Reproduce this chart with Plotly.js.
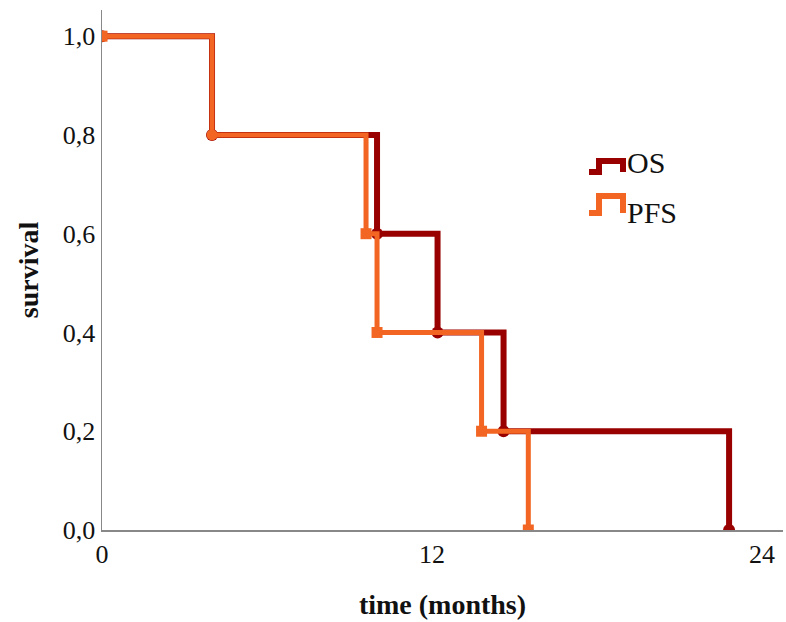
<!DOCTYPE html>
<html>
<head>
<meta charset="utf-8">
<script src="https://cdn.plot.ly/plotly-3.0.1.min.js"></script>
<style>html,body{margin:0;padding:0;background:#fff;}#chart{width:786px;height:622px;}</style>
</head>
<body>
<div id="chart"></div>
<script>
// Kaplan-Meier step data (time in months, survival proportion)
const osTime   = [0, 4, 10, 12.2, 14.6, 22.8];
const osSurv   = [1, 0.8, 0.6, 0.4, 0.2, 0];
const pfsTime  = [0, 4, 9.6, 10, 13.8, 15.5];
const pfsSurv  = [1, 0.8, 0.6, 0.4, 0.2, 0];
const seriesNames = ["OS", "PFS"];
const xTickVals = [0, 12, 24];
const xTickText = ["0", "12", "24"];
const yTickVals = [0, 0.2, 0.4, 0.6, 0.8, 1.0];
const yTickText = ["0,0", "0,2", "0,4", "0,6", "0,8", "1,0"];

const OS_COLOR = "#990000";
const PFS_COLOR = "#f26522";
const serif = "Liberation Serif, Times New Roman, serif";

const traces = [
  {
    x: osTime, y: osSurv, name: seriesNames[0], type: "scatter", mode: "lines+markers",
    line: {shape: "hv", color: OS_COLOR, width: 6},
    marker: {symbol: "circle", size: 12, color: OS_COLOR},
    showlegend: false, hoverinfo: "x+y"
  },
  {
    x: pfsTime, y: pfsSurv, name: seriesNames[1], type: "scatter", mode: "lines+markers",
    line: {shape: "hv", color: PFS_COLOR, width: 5},
    marker: {symbol: ["square", "circle", "square", "square", "square", "square"], size: 11, color: PFS_COLOR},
    showlegend: false, hoverinfo: "x+y"
  }
];

// custom step-shaped legend icons (paper coords)
function px2x(p){ return (p - 102) / (783 - 102); }
function py2y(p){ return (530 - p) / (530 - 10); }
function stepIcon(x0, yb, yt, color){
  const a = px2x(x0), b = px2x(x0 + 10), c = px2x(x0 + 34);
  const lo = py2y(yb), hi = py2y(yt);
  return {type: "path", xref: "paper", yref: "paper",
    path: `M ${a} ${lo} L ${b} ${lo} L ${b} ${hi} L ${c} ${hi} L ${c} ${lo}`,
    line: {color: color, width: 6}};
}

const layout = {
  width: 786, height: 622,
  margin: {l: 102, r: 3, t: 10, b: 92},
  paper_bgcolor: "#fff", plot_bgcolor: "#fff",
  font: {family: serif, color: "#111"},
  xaxis: {
    range: [0, 24.76], tickvals: xTickVals, ticktext: xTickText,
    showgrid: false, zeroline: false, showline: true, linecolor: "#888", linewidth: 1.5,
    ticks: "", tickfont: {size: 26, family: serif, color: "#111"},
    title: {text: "<b>time (months)</b>", font: {size: 28, family: serif, color: "#111"}, standoff: 26}
  },
  yaxis: {
    range: [0, 1.053], tickvals: yTickVals, ticktext: yTickText,
    showgrid: false, zeroline: false, showline: true, linecolor: "#888", linewidth: 1.5,
    ticks: "", tickfont: {size: 26, family: serif, color: "#111"},
    title: {text: "<b>survival</b>", font: {size: 28, family: serif, color: "#111"}, standoff: 16}
  },
  shapes: [stepIcon(589, 172, 161, OS_COLOR), stepIcon(589, 213, 196, PFS_COLOR)],
  annotations: [
    {xref: "paper", yref: "paper", x: px2x(625), y: py2y(163), xanchor: "left", yanchor: "middle",
     text: seriesNames[0], showarrow: false, font: {size: 30, family: serif, color: "#111"}},
    {xref: "paper", yref: "paper", x: px2x(625), y: py2y(213), xanchor: "left", yanchor: "middle",
     text: seriesNames[1], showarrow: false, font: {size: 30, family: serif, color: "#111"}}
  ]
};

Plotly.newPlot("chart", traces, layout, {displayModeBar: false, staticPlot: true});
</script>
</body>
</html>
